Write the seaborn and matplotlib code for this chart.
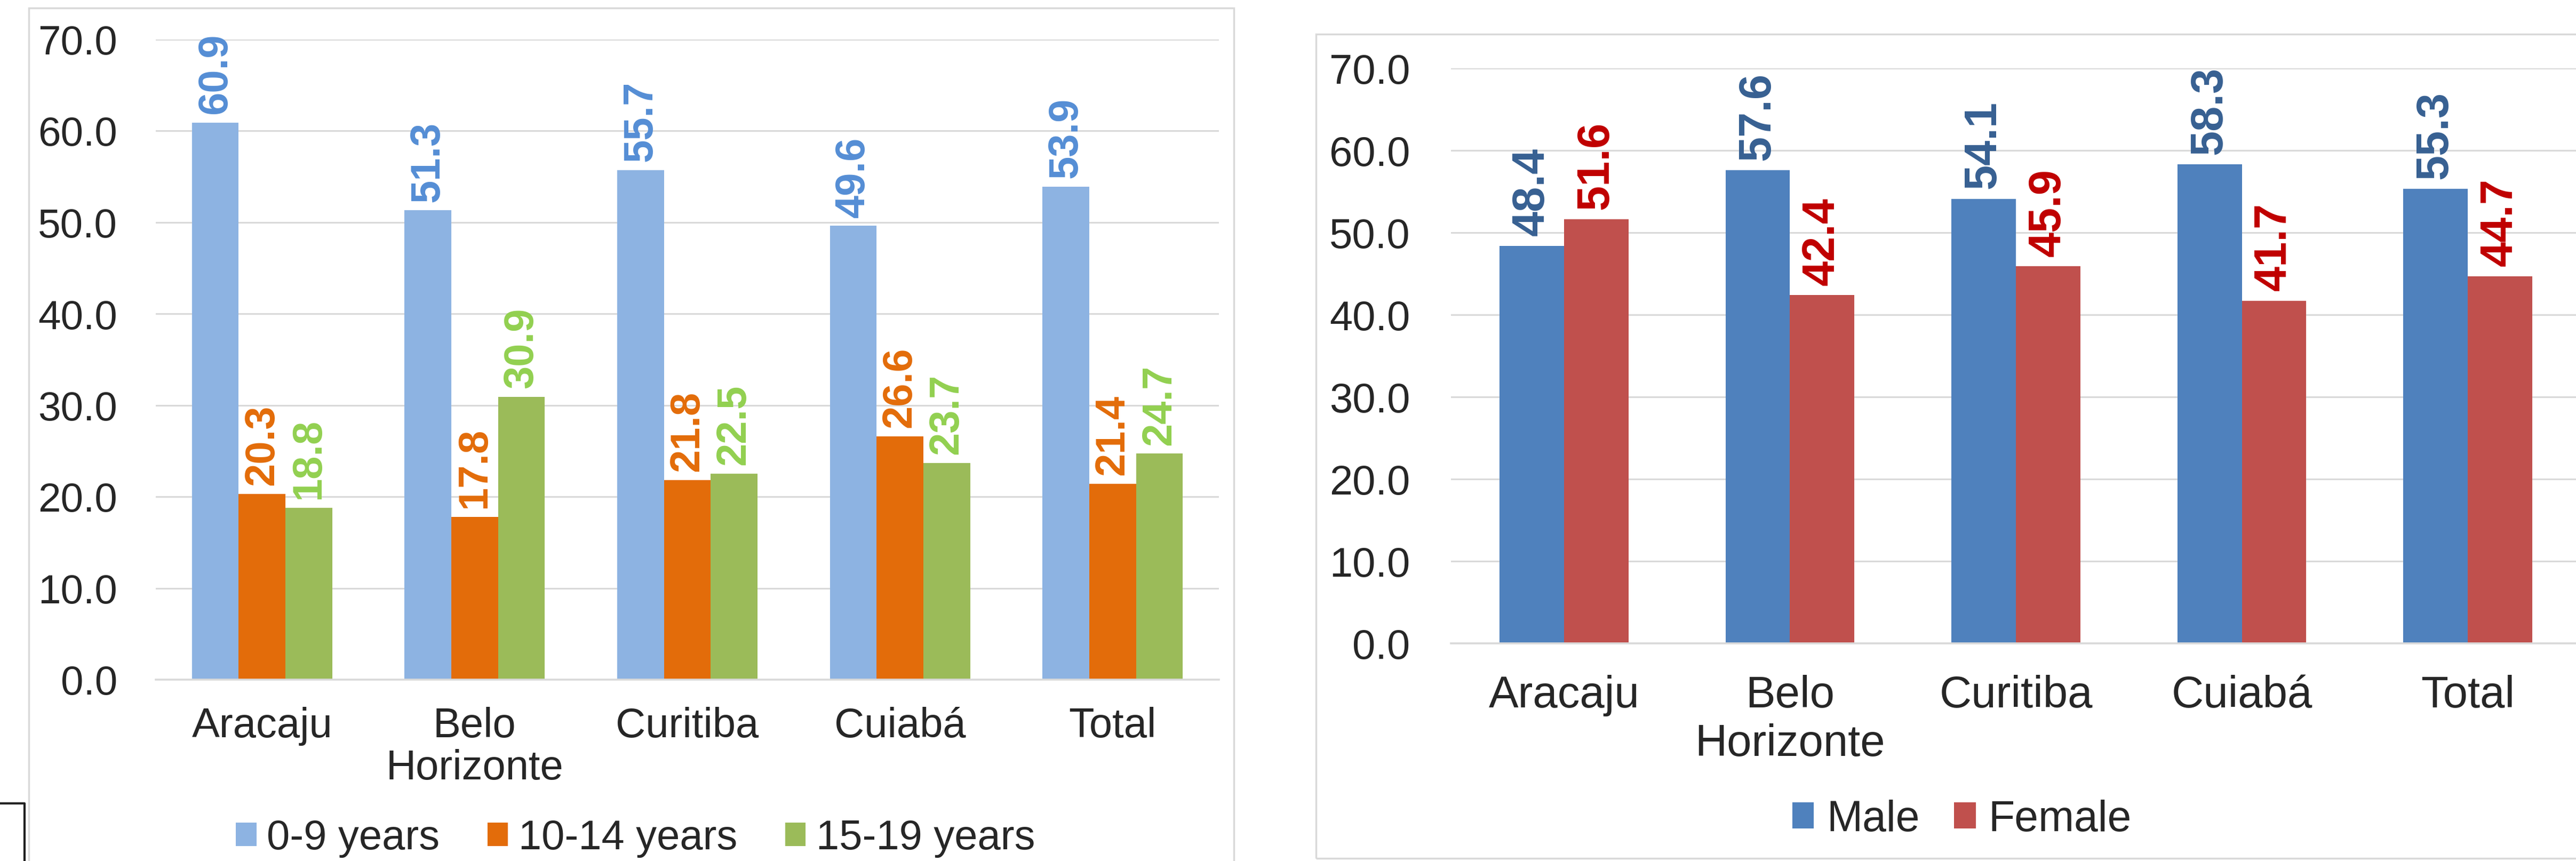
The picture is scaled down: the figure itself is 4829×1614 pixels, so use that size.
import pandas as pd
import numpy as np
import matplotlib
matplotlib.use('Agg')
import matplotlib.pyplot as plt
from matplotlib.patches import Rectangle
from matplotlib.lines import Line2D
import seaborn as sns

# data
cities = ['Aracaju', 'Belo\nHorizonte', 'Curitiba', 'Cuiabá', 'Total']
age_groups = ['0-9 years', '10-14 years', '15-19 years']
age_0_9 = [60.9, 51.3, 55.7, 49.6, 53.9]
age_10_14 = [20.3, 17.8, 21.8, 26.6, 21.4]
age_15_19 = [18.8, 30.9, 22.5, 23.7, 24.7]
sexes = ['Male', 'Female']
male = [48.4, 57.6, 54.1, 58.3, 55.3]
female = [51.6, 42.4, 45.9, 41.7, 44.7]
yticks = [0, 10, 20, 30, 40, 50, 60, 70]

# colours
age_bar_colors = ['#8DB3E2', '#E36C0A', '#9BBB59']
age_lbl_colors = ['#558ED5', '#E36C09', '#92D050']
sex_bar_colors = ['#4F81BD', '#C0504D']
sex_lbl_colors = ['#376092', '#C00000']
grid_col = '#D9D9D9'

sns.set_style('white')
plt.rcParams['font.family'] = ['Liberation Sans', 'DejaVu Sans']

# long tables for seaborn
df_age = pd.DataFrame({
    'city': cities * 3,
    'group': np.repeat(age_groups, len(cities)),
    'value': age_0_9 + age_10_14 + age_15_19,
})
df_sex = pd.DataFrame({
    'city': cities * 2,
    'group': np.repeat(sexes, len(cities)),
    'value': male + female,
})

W, H = 4829, 1615
fig = plt.figure(figsize=(W / 100, H / 100), dpi=100)


def px_axes(x0, x1, ytop, ybot):
    return fig.add_axes([x0 / W, (H - ybot) / H, (x1 - x0) / W, (ybot - ytop) / H])


def style_axis(ax, tick_fs, xtick_fs, ypad, xpad, lsp):
    ax.set_ylim(0, 70)
    ax.set_yticks(yticks)
    ax.set_yticklabels(['%.1f' % t for t in yticks], fontsize=tick_fs)
    ax.tick_params(axis='y', length=0, pad=ypad)
    ax.tick_params(axis='x', length=0, pad=xpad, labelsize=xtick_fs)
    for lab in ax.get_xticklabels():
        lab.set_linespacing(lsp)
    ax.yaxis.grid(True, color=grid_col, lw=2.2)
    ax.set_axisbelow(True)
    for s in ['left', 'right', 'top']:
        ax.spines[s].set_visible(False)
    ax.spines['bottom'].set_color(grid_col)
    ax.spines['bottom'].set_linewidth(2.6)
    ax.set_xlabel('')
    ax.set_ylabel('')


# left chart: age groups
ax1 = px_axes(292, 2285, 74.5, 1275)
sns.barplot(data=df_age, x='city', y='value', hue='group', palette=age_bar_colors,
            width=0.66, linewidth=0, saturation=1, ax=ax1)
for cont, col in zip(ax1.containers, age_lbl_colors):
    ax1.bar_label(cont, fmt='%.1f', rotation=90, padding=12, color=col,
                  fontweight='bold', fontsize=56)
style_axis(ax1, 55, 56, 52, 36, 1.1)
h1, l1 = ax1.get_legend_handles_labels()
ax1.get_legend().remove()
fig.legend(h1, l1, loc='center', bbox_to_anchor=(1191 / W, (H - 1572) / H), ncol=3,
           frameon=False, fontsize=56, handlelength=0.5, handleheight=0.5,
           handletextpad=0.25, columnspacing=1.15)

# right chart: sex
ax2 = px_axes(2720, 4838, 129, 1207)
sns.barplot(data=df_sex, x='city', y='value', hue='group', palette=sex_bar_colors,
            width=0.57, linewidth=0, saturation=1, ax=ax2)
for cont, col in zip(ax2.containers, sex_lbl_colors):
    ax2.bar_label(cont, fmt='%.1f', rotation=90, padding=14, color=col,
                  fontweight='bold', fontsize=61)
style_axis(ax2, 56, 60, 55, 42, 1.2)
h2, l2 = ax2.get_legend_handles_labels()
ax2.get_legend().remove()
fig.legend(h2, l2, loc='center', bbox_to_anchor=(3678 / W, (H - 1537) / H), ncol=2,
           frameon=False, fontsize=58, handlelength=0.5, handleheight=0.55,
           handletextpad=0.3, columnspacing=0.8)

# chart frames
fig.add_artist(Rectangle((54 / W, -0.05), (2313 - 54) / W, (H - 16) / H + 0.05,
                         transform=fig.transFigure, fill=False, ec=grid_col, lw=2.5))
fig.add_artist(Rectangle((2467 / W, (H - 1610) / H), 0.6, (1610 - 65) / H,
                         transform=fig.transFigure, fill=False, ec=grid_col, lw=2.5))
# stray black corner at bottom left
fig.add_artist(Line2D([0, 46 / W, 46 / W], [(H - 1507) / H, (H - 1507) / H, -0.01],
                      transform=fig.transFigure, color='#222222', lw=3))

fig.savefig('out.png', dpi=100, facecolor='white')
